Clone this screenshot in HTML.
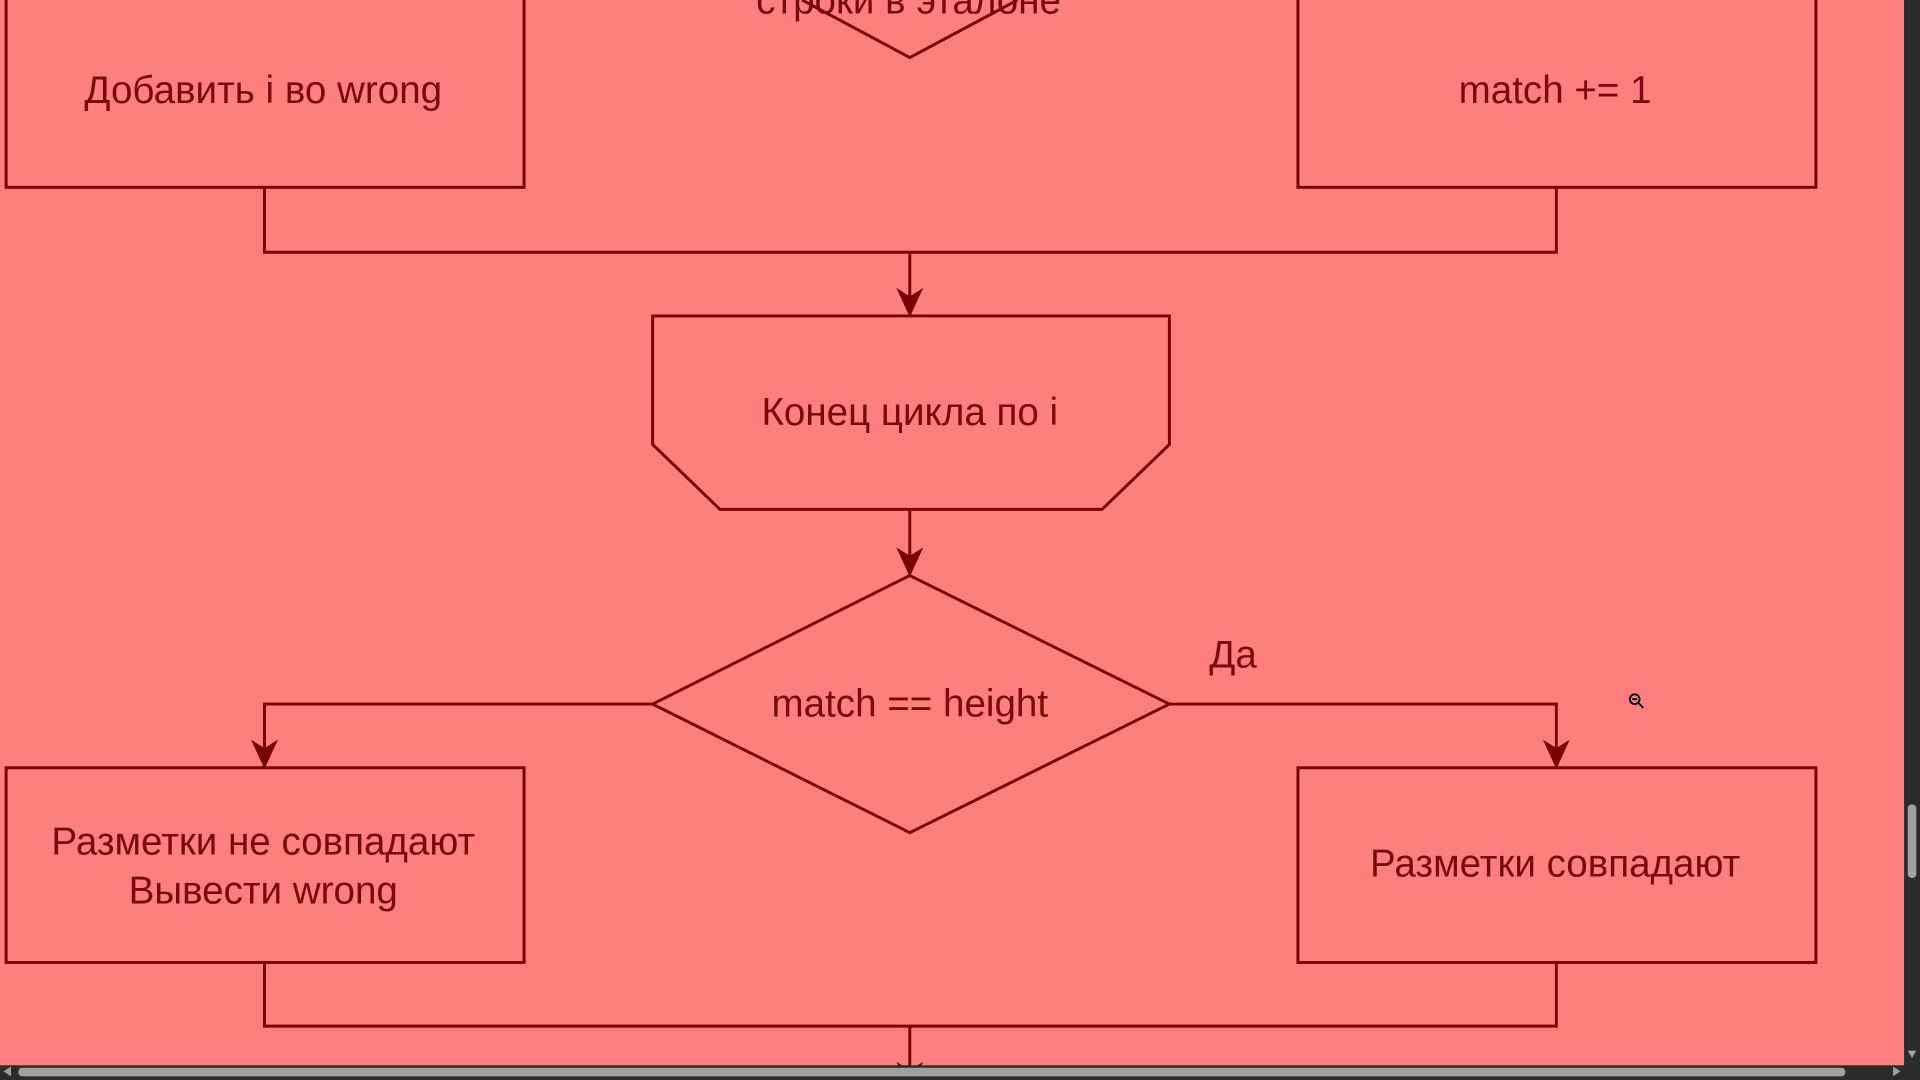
<!DOCTYPE html>
<html><head><meta charset="utf-8"><style>
html,body{margin:0;padding:0;width:1920px;height:1080px;overflow:hidden;background:#ff7f7f}
svg{display:block}
text{font-family:"Liberation Sans",sans-serif;fill:#7a0a0a;font-size:31.5px;text-anchor:middle}
</style></head><body>
<svg width="1920" height="1080" viewBox="0 0 1568 882" xmlns="http://www.w3.org/2000/svg">
<defs>
<marker id="a" viewBox="0 0 24 24" refX="23" refY="12" markerWidth="24" markerHeight="24" markerUnits="userSpaceOnUse" orient="auto">
<path d="M0,1 L24,12 L0,23 L7,12 Z" fill="#7a0000"/>
</marker>
</defs>
<rect width="1568" height="882" fill="#ff7f7f"/>
<g fill="none" stroke="#7a0000" stroke-width="2.4">
<rect x="5" y="-10" width="423" height="163"/>
<rect x="1060" y="-10" width="423" height="163"/>
<polyline points="655,0 743,47 831,0"/>
<polyline points="216,153 216,206 1271,206 1271,153"/>
<line x1="743" y1="206" x2="743" y2="258" marker-end="url(#a)"/>
<polygon points="533,258 955,258 955,363 900,416 588,416 533,363"/>
<line x1="743" y1="416" x2="743" y2="470" marker-end="url(#a)"/>
<polygon points="743,470 955,575 743,680 533,575"/>
<polyline points="533,575 216,575 216,627" marker-end="url(#a)"/>
<polyline points="955,575 1271,575 1271,627" marker-end="url(#a)"/>
<rect x="5" y="627" width="423" height="159"/>
<rect x="1060" y="627" width="423" height="159"/>
<polyline points="216,786 216,838 1271,838 1271,786"/>
<line x1="743" y1="838" x2="743" y2="890" marker-end="url(#a)"/>
</g>
<text x="742" y="11">строки в эталоне</text>
<text x="215" y="84">Добавить i во wrong</text>
<text x="1270" y="84">match += 1</text>
<text x="743" y="347">Конец цикла по i</text>
<text x="743" y="585">match == height</text>
<text x="1007" y="545">Да</text>
<text x="215" y="698">Разметки не совпадают</text>
<text x="215" y="738">Вывести wrong</text>
<text x="1270" y="716">Разметки совпадают</text>
<g stroke="#000" stroke-width="1.5" fill="none"><circle cx="1335" cy="571" r="4"/><line x1="1338" y1="574" x2="1342" y2="578"/><line x1="1333" y1="571" x2="1337" y2="571"/></g>
<rect x="1555" y="0" width="13" height="882" fill="#2b2b2b"/>
<rect x="0" y="870" width="1568" height="12" fill="#2b2b2b"/>
<rect x="1558" y="657" width="7" height="60" rx="3" fill="#a0a0a0"/>
<rect x="15" y="872" width="1492" height="7" rx="3" fill="#a0a0a0"/>
<path d="M1558,858 L1565,858 L1561.5,864Z" fill="#a0a0a0"/>
<path d="M1546,871 L1552,875 L1546,879Z" fill="#a0a0a0"/>
<path d="M9,871 L3,875 L9,879Z" fill="#a0a0a0"/>
</svg>
</body></html>
